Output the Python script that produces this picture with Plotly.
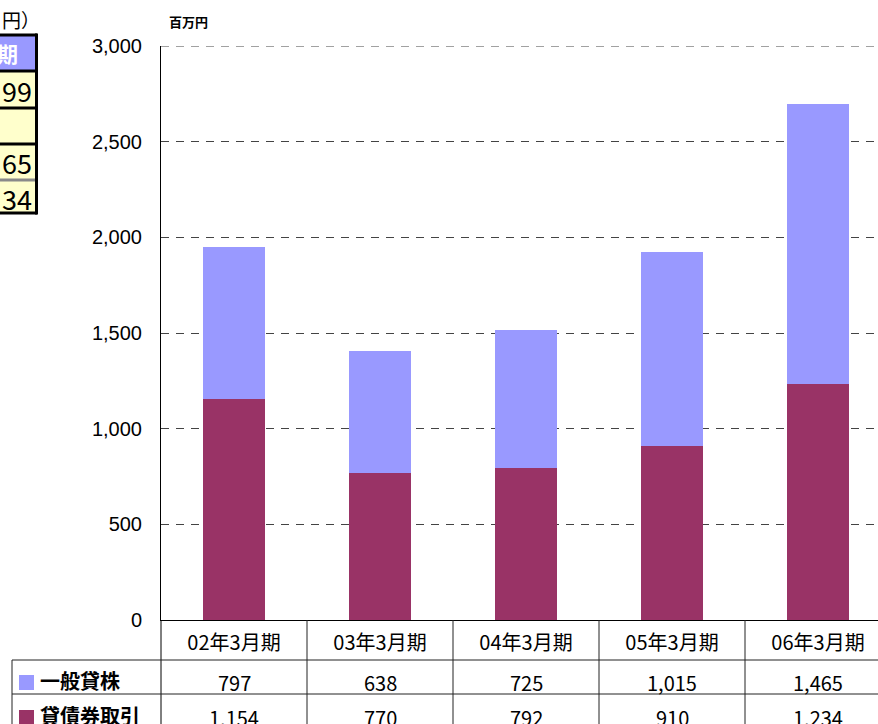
import plotly.graph_objects as go

# ---- data ---------------------------------------------------------------
categories = ["02年3月期", "03年3月期", "04年3月期", "05年3月期", "06年3月期"]
series_names = ["一般貸株", "貸債券取引"]
stock_lending = [797, 638, 725, 1015, 1465]   # 一般貸株
bond_lending = [1154, 770, 792, 910, 1234]    # 貸債券取引
y_ticks = [0, 500, 1000, 1500, 2000, 2500, 3000]
unit_label = "百万円"

# fragment of the neighbouring summary table (left edge)
side_unit = "円）"
side_header = "期"
side_values = ["99", "", "65", "34"]

# ---- styling ------------------------------------------------------------
BLUE = "#9999FF"
MAROON = "#993366"
YELLOW = "#FFFFCC"
GRID = "#444444"
JP = "Noto Sans CJK JP"
LAT = "Liberation Sans, Arial"

W, H = 878, 724
L, T, B = 161, 46, 620          # plot area edges in pixels
PW, PH = W - L, B - T
COL = 146                       # pixel width of one category column


def px(xpix):
    return (xpix - L) / PW


def py(ypix):
    return (B - ypix) / PH


fig = go.Figure()
fig.add_trace(go.Bar(x=categories, y=bond_lending, name=series_names[1],
                     marker=dict(color=MAROON, line=dict(width=0)), width=0.42))
fig.add_trace(go.Bar(x=categories, y=stock_lending, name=series_names[0],
                     marker=dict(color=BLUE, line=dict(width=0)), width=0.42))

shapes = []
annotations = []

# top gridline sits on the plot edge, so draw it explicitly
shapes.append(dict(type="line", xref="paper", yref="y", x0=0, x1=1,
                   y0=y_ticks[-1], y1=y_ticks[-1], layer="below",
                   line=dict(color=GRID, width=1, dash="8px,7px")))

# data table under the chart
LINE = dict(color="#222222", width=1)
n = len(categories)
for i in range(n):
    shapes.append(dict(type="line", xref="x", yref="paper", x0=i + 0.5, x1=i + 0.5,
                       y0=py(B), y1=py(H + 20), line=LINE))
shapes.append(dict(type="line", xref="paper", yref="paper", x0=0, x1=0,
                   y0=py(B), y1=py(H + 20), line=dict(color="black", width=1)))
shapes.append(dict(type="line", xref="paper", yref="paper", x0=px(12), x1=px(12),
                   y0=py(660), y1=py(H + 20), line=LINE))
for yl in (660, 694):
    shapes.append(dict(type="line", xref="paper", yref="paper", x0=px(12), x1=1,
                       y0=py(yl), y1=py(yl), line=LINE))

rows = [(series_names[0], stock_lending, BLUE, 680),
        (series_names[1], bond_lending, MAROON, 715)]
for name, vals, color, yc in rows:
    shapes.append(dict(type="rect", xref="paper", yref="paper", x0=px(19), x1=px(34),
                       y0=py(yc - 5), y1=py(yc + 10), fillcolor=color,
                       line=dict(width=0)))
    annotations.append(dict(xref="paper", yref="paper", x=px(38), y=py(yc),
                            text=f"<b>{name}</b>", showarrow=False, xanchor="left",
                            yanchor="middle", font=dict(family=JP, size=20, color="black")))
    for c, v in zip(categories, vals):
        annotations.append(dict(xref="x", yref="paper", x=c, y=py(yc + 2),
                                text=f"{v:,}", showarrow=False, xanchor="center",
                                yanchor="middle", font=dict(family=JP, size=20, color="black")))

# unit label above the value axis
annotations.append(dict(xref="paper", yref="paper", x=px(167), y=py(22),
                        text=f"<b>{unit_label}</b>", showarrow=False, xanchor="left",
                        yanchor="middle", font=dict(family=JP, size=13, color="black")))

# summary table fragment at the top-left
row_edges = [35, 71, 108, 144, 180, 213]
shapes.append(dict(type="rect", xref="paper", yref="paper", x0=px(-20), x1=px(37),
                   y0=py(row_edges[0]), y1=py(row_edges[1]), fillcolor=BLUE,
                   line=dict(width=0)))
shapes.append(dict(type="rect", xref="paper", yref="paper", x0=px(-20), x1=px(37),
                   y0=py(row_edges[1]), y1=py(row_edges[-1]), fillcolor=YELLOW,
                   line=dict(width=0)))
for yl in row_edges:
    gray = (yl == 180)
    shapes.append(dict(type="line", xref="paper", yref="paper", x0=px(-20), x1=px(37),
                       y0=py(yl), y1=py(yl),
                       line=dict(color="#8a8a8a" if gray else "black", width=3)))
shapes.append(dict(type="line", xref="paper", yref="paper", x0=px(36.5), x1=px(36.5),
                   y0=py(row_edges[0] - 1.5), y1=py(row_edges[-1] + 1.5),
                   line=dict(color="black", width=3)))
annotations.append(dict(xref="paper", yref="paper", x=px(42), y=py(20),
                        text=side_unit, showarrow=False, xanchor="right", yanchor="middle",
                        font=dict(family=JP, size=19, color="black")))
annotations.append(dict(xref="paper", yref="paper", x=px(20), y=py(53),
                        text=f"<b>{side_header}</b>", showarrow=False, xanchor="right",
                        yanchor="middle", font=dict(family=JP, size=21, color="white")))
side_centers = [90, 126, 162, 198]
for v, yc in zip(side_values, side_centers):
    if v:
        annotations.append(dict(xref="paper", yref="paper", x=px(34), y=py(yc),
                                text=v, showarrow=False, xanchor="right", yanchor="middle",
                                font=dict(family=JP, size=27, color="black")))

fig.update_layout(
    width=W, height=H,
    margin=dict(l=L, r=0, t=T, b=H - B, pad=0),
    barmode="stack",
    bargap=0,
    showlegend=False,
    plot_bgcolor="white",
    paper_bgcolor="white",
    shapes=shapes,
    annotations=annotations,
    xaxis=dict(
        type="category",
        range=[-0.5, -0.5 + PW / COL],
        showgrid=False, zeroline=False,
        showline=True, linecolor="black", linewidth=1,
        ticks="", ticklabelstandoff=5,
        tickfont=dict(family=JP, size=20, color="black"),
    ),
    yaxis=dict(
        range=[0, 3000],
        tickvals=y_ticks,
        ticktext=[f"{v:,}" for v in y_ticks],
        showgrid=True, gridcolor=GRID, gridwidth=1, griddash="8px,7px",
        zeroline=False,
        showline=True, linecolor="black", linewidth=1,
        ticks="", ticklabelstandoff=14,
        tickfont=dict(family=LAT, size=20, color="black"),
    ),
)

fig.write_html("out.html")
